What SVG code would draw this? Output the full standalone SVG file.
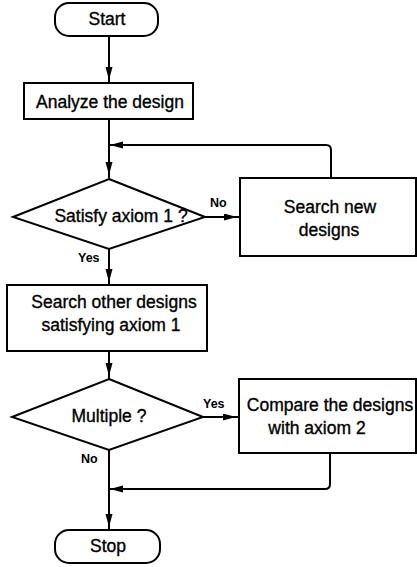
<svg xmlns="http://www.w3.org/2000/svg" width="417" height="567" viewBox="0 0 417 567">
<style>
.shape{fill:#fff;stroke:#000;stroke-width:2}
.t{font-family:"Liberation Sans",Arial,sans-serif;font-size:17.5px;fill:#000;stroke:#000;stroke-width:0.35;text-anchor:middle}
.lbl{font-family:"Liberation Sans",Arial,sans-serif;font-size:12.5px;font-weight:bold;fill:#000}
.c{fill:none;stroke:#000;stroke-width:2;marker-end:url(#ah)}
</style>
<defs>
<marker id="ah" markerUnits="userSpaceOnUse" markerWidth="16" markerHeight="8" refX="16" refY="3.5" orient="auto">
<path d="M0,0 L13,3.5 L0,7 z" fill="#000"/>
</marker>
<marker id="ah0" markerUnits="userSpaceOnUse" markerWidth="14" markerHeight="8" refX="13" refY="3.5" orient="auto">
<path d="M0,0 L13,3.5 L0,7 z" fill="#000"/>
</marker>
</defs>
<g id="connectors">
<path class="c" d="M109,36 V83"/>
<path class="c" d="M109,119 V178"/>
<path class="c" d="M205,217 H240"/>
<path class="c" style="marker-end:url(#ah0)" d="M331,178 V150 Q331,145 326,145 H110"/>
<path class="c" d="M109,249 V285"/>
<path class="c" d="M109,351 V379"/>
<path class="c" d="M203,417 H239"/>
<path class="c" style="marker-end:url(#ah0)" d="M330,453 V484 Q330,489 325,489 H110"/>
<path class="c" d="M109,450 V530"/>
<text class="lbl" x="210" y="207">No</text>
<text class="lbl" x="78" y="262">Yes</text>
<text class="lbl" x="203" y="408">Yes</text>
<text class="lbl" x="81" y="463">No</text>
</g>
<g id="start">
<rect class="shape" x="55" y="3" width="103" height="33" rx="14"/>
<text class="t" x="107" y="25">Start</text>
</g>
<g id="analyze">
<rect class="shape" x="24" y="83" width="169" height="36"/>
<text class="t" x="110" y="108">Analyze the design</text>
</g>
<g id="satisfy">
<polygon class="shape" points="109,179 205,217 109,249 13,217"/>
<text class="t" x="121" y="222">Satisfy axiom 1 ?</text>
</g>
<g id="searchnew">
<rect class="shape" x="240" y="178" width="176" height="78"/>
<text class="t" x="330" y="213">Search new</text>
<text class="t" x="329" y="236">designs</text>
</g>
<g id="searchother">
<rect class="shape" x="7" y="285" width="200" height="66"/>
<text class="t" x="114" y="308">Search other designs</text>
<text class="t" x="111" y="331">satisfying axiom 1</text>
</g>
<g id="multiple">
<polygon class="shape" points="109,379 203,417 109,450 12,417"/>
<text class="t" x="109" y="422">Multiple ?</text>
</g>
<g id="compare">
<rect class="shape" x="239" y="379" width="177" height="74"/>
<text class="t" x="330" y="411">Compare the designs</text>
<text class="t" x="317" y="434">with axiom 2</text>
</g>
<g id="stop">
<rect class="shape" x="55" y="530" width="105" height="33" rx="14"/>
<text class="t" x="108" y="552">Stop</text>
</g>
</svg>
